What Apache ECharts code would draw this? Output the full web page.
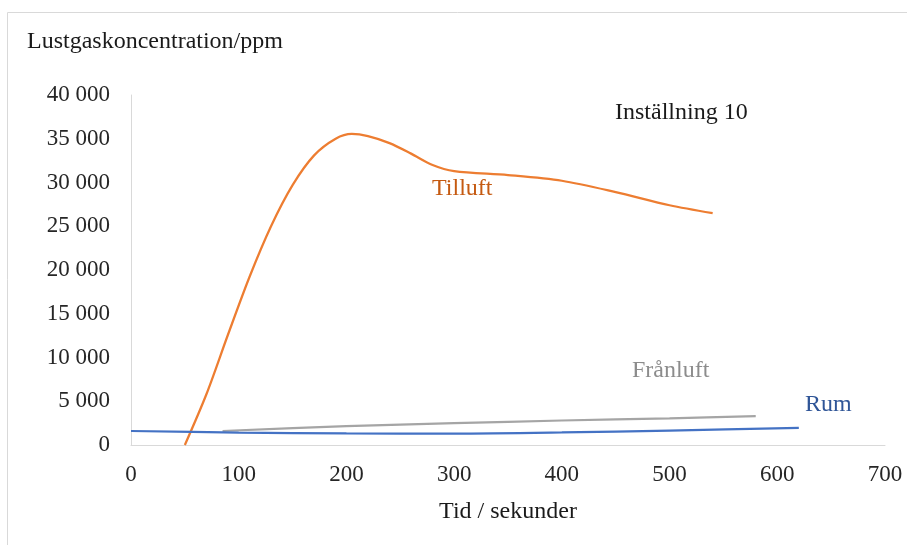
<!DOCTYPE html>
<html><head><meta charset="utf-8">
<script src="https://cdn.jsdelivr.net/npm/echarts@6/dist/echarts.min.js"></script>
<style>html,body{margin:0;padding:0;background:#fff}#c{width:907px;height:545px}</style>
</head><body><div id="c"></div>
<script>
const xTicks = [0, 100, 200, 300, 400, 500, 600, 700];
const yTicks = [0, 5000, 10000, 15000, 20000, 25000, 30000, 35000, 40000];
const tillTime = [50, 70, 90, 110, 130, 150, 170, 190, 205, 220, 240, 260, 280, 300, 350, 400, 450, 500, 540];
const tillVal  = [0, 5800, 12600, 19200, 25000, 29700, 33100, 35000, 35550, 35300, 34500, 33300, 32000, 31300, 30850, 30200, 28900, 27400, 26500];
const franTime = [85, 200, 300, 400, 500, 580];
const franVal  = [1600, 2150, 2500, 2800, 3050, 3300];
const rumTime  = [0, 100, 200, 300, 400, 500, 620];
const rumVal   = [1600, 1420, 1320, 1300, 1430, 1650, 1950];

const zip = (a, b) => a.map((v, i) => [v, b[i]]);
const FONT = '"Liberation Serif", "DejaVu Serif", serif';
const chart = echarts.init(document.getElementById('c'));
chart.setOption({
  animation: false,
  textStyle: { fontFamily: FONT },
  grid: { left: 131, right: 22, top: 95, bottom: 100 },
  xAxis: {
    type: 'value', min: xTicks[0], max: xTicks[xTicks.length - 1], interval: 100,
    name: 'Tid / sekunder', nameLocation: 'middle', nameGap: 55,
    nameTextStyle: { fontFamily: FONT, fontSize: 24, color: '#1a1a1a' },
    axisLine: { lineStyle: { color: '#d9d9d9', width: 1 } },
    axisTick: { show: false }, splitLine: { show: false },
    axisLabel: { fontFamily: FONT, fontSize: 23, color: '#262626', margin: 18 }
  },
  yAxis: {
    type: 'value', min: yTicks[0], max: yTicks[yTicks.length - 1], interval: 5000,
    axisLine: { show: true, lineStyle: { color: '#d9d9d9', width: 1 } },
    axisTick: { show: false }, splitLine: { show: false },
    axisLabel: { fontFamily: FONT, fontSize: 23, color: '#262626', margin: 21,
      formatter: v => String(v).replace(/\B(?=(\d{3})+(?!\d))/g, ' ') }
  },
  graphic: [
    { type: 'rect', shape: { x: 7.5, y: 12.5, width: 1000, height: 700 }, style: { fill: 'none', stroke: '#d9d9d9', lineWidth: 1 }, z: -1 },
    { type: 'text', left: 27, top: 30, style: { text: 'Lustgaskoncentration/ppm', font: '24px ' + FONT, fill: '#1a1a1a' } },
    { type: 'text', left: 615, top: 101, style: { text: 'Inställning 10', font: '24px ' + FONT, fill: '#1a1a1a' } },
    { type: 'text', left: 432, top: 177, style: { text: 'Tilluft', font: '24px ' + FONT, fill: '#c55a11' } },
    { type: 'text', left: 632, top: 359, style: { text: 'Frånluft', font: '24px ' + FONT, fill: '#8c8c8c' } },
    { type: 'text', left: 805, top: 393, style: { text: 'Rum', font: '24px ' + FONT, fill: '#2f5597' } }
  ],
  series: [
    { name: 'Tilluft', type: 'line', smooth: 0.3, showSymbol: false, data: zip(tillTime, tillVal), lineStyle: { color: '#ed7d31', width: 2.25 } },
    { name: 'Frånluft', type: 'line', smooth: 0.3, showSymbol: false, data: zip(franTime, franVal), lineStyle: { color: '#a5a5a5', width: 2.25 } },
    { name: 'Rum', type: 'line', smooth: 0.3, showSymbol: false, data: zip(rumTime, rumVal), lineStyle: { color: '#4472c4', width: 2.25 }, z: 3 }
  ]
});
</script></body></html>
